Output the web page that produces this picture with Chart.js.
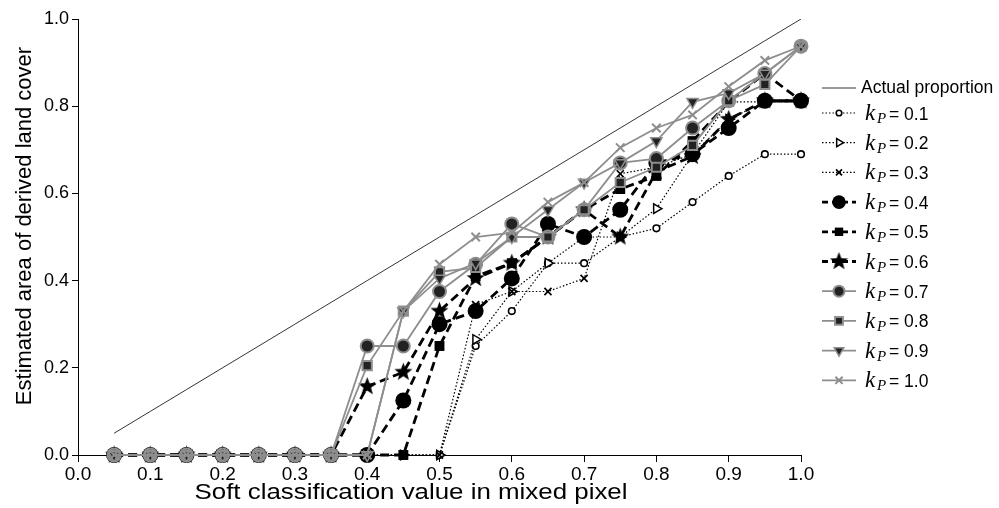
<!DOCTYPE html>
<html>
<head>
<meta charset="utf-8">
<script src="https://cdn.jsdelivr.net/npm/chart.js@4/dist/chart.umd.min.js"></script>
<style>
  html, body { margin: 0; padding: 0; background: #fff; }
  #wrap { width: 999px; height: 508px; position: relative; }
</style>
</head>
<body>
<div id="wrap"><canvas id="chart"></canvas></div>
<script>
// Valeurs de l'axe x (classification douce)
const xVals = [0.05, 0.10, 0.15, 0.20, 0.25, 0.30, 0.35, 0.40, 0.45, 0.50,
               0.55, 0.60, 0.65, 0.70, 0.75, 0.80, 0.85, 0.90, 0.95, 1.00];

// Proportion réelle (diagonale)
const actualVals = [0.05, 0.10, 0.15, 0.20, 0.25, 0.30, 0.35, 0.40, 0.45, 0.50,
                    0.55, 0.60, 0.65, 0.70, 0.75, 0.80, 0.85, 0.90, 0.95, 1.00];

// Séries kP
const k01 = [0, 0, 0, 0, 0, 0, 0, 0, 0, 0, 0.25, 0.33, 0.44, 0.44, 0.50, 0.52, 0.58, 0.64, 0.69, 0.69];
const k02 = [0, 0, 0, 0, 0, 0, 0, 0, 0, 0, 0.265, 0.375, 0.44, 0.50, 0.50, 0.565, 0.69, 0.77, 0.81, 0.81];
const k03 = [0, 0, 0, 0, 0, 0, 0, 0, 0, 0, 0.345, 0.375, 0.375, 0.405, 0.645, 0.66, 0.69, 0.81, 0.81, 0.81];
const k04 = [0, 0, 0, 0, 0, 0, 0, 0, 0.125, 0.30, 0.33, 0.405, 0.53, 0.50, 0.5625, 0.67, 0.69, 0.75, 0.8125, 0.8125];
const k05 = [0, 0, 0, 0, 0, 0, 0, 0, 0, 0.25, 0.41, 0.44, 0.50, 0.5625, 0.61, 0.64, 0.72, 0.81, 0.875, 0.8125];
const k06 = [0, 0, 0, 0, 0, 0, 0, 0.157, 0.19, 0.33, 0.405, 0.44, 0.50, 0.5625, 0.50, 0.65, 0.685, 0.77, 0.8125, 0.8125];
const k07 = [0, 0, 0, 0, 0, 0, 0, 0.25, 0.25, 0.375, 0.4375, 0.53, 0.50, 0.5625, 0.67, 0.68, 0.75, 0.8125, 0.875, 0.9375];
const k08 = [0, 0, 0, 0, 0, 0, 0, 0.205, 0.33, 0.42, 0.43, 0.50, 0.50, 0.5625, 0.625, 0.66, 0.71, 0.8125, 0.85, 0.9375];
const k09 = [0, 0, 0, 0, 0, 0, 0, 0, 0.33, 0.405, 0.44, 0.50, 0.5625, 0.625, 0.67, 0.72, 0.81, 0.83, 0.875, 0.9375];
const k10 = [0, 0, 0, 0, 0, 0, 0, 0, 0.33, 0.4375, 0.50, 0.51, 0.58, 0.625, 0.705, 0.75, 0.78, 0.845, 0.905, 0.9375];

const kLabels = ['0.1', '0.2', '0.3', '0.4', '0.5', '0.6', '0.7', '0.8', '0.9', '1.0'];
const kSeries = [k01, k02, k03, k04, k05, k06, k07, k08, k09, k10];

const xTickLabels = ['0.0', '0.1', '0.2', '0.3', '0.4', '0.5', '0.6', '0.7', '0.8', '0.9', '1.0'];
const yTickLabels = ['0.0', '0.2', '0.4', '0.6', '0.8', '1.0'];

const xTitle = 'Soft classification value in mixed pixel';
const yTitle = 'Estimated area of derived land cover';

// Étoile pleine (pas disponible dans Chart.js)
function makeStar(r) {
    const c = document.createElement('canvas');
    const s = Math.ceil(r * 2 + 2);
    c.width = c.height = s;
    const g = c.getContext('2d');
    g.beginPath();
    for (let k = 0; k < 10; k++) {
        const rr = k % 2 ? r * 0.42 : r;
        const a = -Math.PI / 2 + k * Math.PI / 5;
        g.lineTo(s / 2 + rr * Math.cos(a), s / 2 + rr * Math.sin(a));
    }
    g.closePath();
    g.fillStyle = '#000';
    g.fill();
    return c;
}
const starImg = makeStar(9.5);

const GRAY = '#8e8e8e';
const DOT = [1.5, 2];
const DASH = [9, 5];
const SANS = '"Liberation Sans", Arial, sans-serif';
const SERIF = '"Liberation Serif", "Times New Roman", serif';

// Styles de chaque série kP
const styles = [
    { line: '#000', width: 1.2, dash: DOT,  point: 'circle',   r: 3.3, fill: '#fff', border: '#000', bw: 1.6, rot: 0 },
    { line: '#000', width: 1.2, dash: DOT,  point: 'triangle', r: 5.5, fill: '#fff', border: '#000', bw: 1.5, rot: 90 },
    { line: '#000', width: 1.2, dash: DOT,  point: 'crossRot', r: 5,   fill: '#000', border: '#000', bw: 1.7, rot: 0 },
    { line: '#000', width: 2.8, dash: DASH, point: 'circle',   r: 8,   fill: '#000', border: '#000', bw: 0,   rot: 0 },
    { line: '#000', width: 2.8, dash: DASH, point: 'rect',     r: 7,   fill: '#000', border: '#000', bw: 0,   rot: 0 },
    { line: '#000', width: 2.8, dash: DASH, point: starImg,    r: 9,   fill: '#000', border: '#000', bw: 0,   rot: 0 },
    { line: GRAY,   width: 1.8, dash: [],   point: 'circle',   r: 6.5, fill: '#222', border: GRAY,   bw: 2,   rot: 0 },
    { line: GRAY,   width: 1.8, dash: [],   point: 'rect',     r: 6.5, fill: '#222', border: GRAY,   bw: 2,   rot: 0 },
    { line: GRAY,   width: 1.8, dash: [],   point: 'triangle', r: 6.5, fill: '#222', border: GRAY,   bw: 1.5, rot: 180 },
    { line: GRAY,   width: 1.8, dash: [],   point: 'crossRot', r: 6,   fill: GRAY,   border: GRAY,   bw: 2,   rot: 0 }
];

const datasets = [{
    label: 'Actual proportion',
    data: xVals.map((x, i) => ({ x: x, y: actualVals[i] })),
    borderColor: '#000',
    borderWidth: 0.8,
    pointRadius: 0,
    order: 20
}];

kSeries.forEach((vals, i) => {
    const s = styles[i];
    datasets.push({
        label: 'kP = ' + kLabels[i],
        data: xVals.map((x, j) => ({ x: x, y: vals[j] })),
        borderColor: s.line,
        borderWidth: s.width,
        borderDash: s.dash,
        pointStyle: s.point,
        pointRadius: s.r,
        pointRotation: s.rot,
        pointBackgroundColor: s.fill,
        pointBorderColor: s.border,
        pointBorderWidth: s.bw,
        tension: 0,
        clip: false,
        order: 12 - i
    });
});

// Titres des axes (le titre x est un peu étiré et décalé à gauche dans l'original)
const titlePlugin = {
    id: 'axisTitles',
    afterDraw(chart) {
        const ctx = chart.ctx;
        ctx.save();
        ctx.fillStyle = '#000';
        ctx.font = '22px ' + SANS;
        ctx.textAlign = 'center';
        ctx.textBaseline = 'alphabetic';

        // titre x : largeur ~433 px, centré vers x=411
        const w = ctx.measureText(xTitle).width;
        ctx.save();
        ctx.translate(411, 499);
        ctx.scale(433 / w, 1);
        ctx.fillText(xTitle, 0, 0);
        ctx.restore();

        // titre y : vertical
        ctx.save();
        ctx.translate(31, 226);
        ctx.rotate(-Math.PI / 2);
        ctx.fillText(yTitle, 0, 0);
        ctx.restore();
        ctx.restore();
    }
};

// Légende dessinée à la main (indice P en italique)
const legendPlugin = {
    id: 'customLegend',
    afterDraw(chart) {
        const ctx = chart.ctx;
        const x0 = 822, x1 = 856, xm = 839;
        ctx.save();

        // Proportion réelle
        let y = 88;
        ctx.strokeStyle = '#000';
        ctx.lineWidth = 0.8;
        ctx.beginPath(); ctx.moveTo(x0, y); ctx.lineTo(x1, y); ctx.stroke();
        ctx.fillStyle = '#000';
        ctx.font = '17.5px ' + SANS;
        ctx.textBaseline = 'middle';
        ctx.fillText('Actual proportion', 861, y);

        kLabels.forEach((lab, i) => {
            const s = styles[i];
            y = 113 + i * 29.7;
            ctx.save();
            ctx.strokeStyle = s.line;
            ctx.lineWidth = s.width;
            ctx.setLineDash(s.dash.length ? (s.width > 2 ? [6, 4] : s.dash) : []);
            ctx.beginPath(); ctx.moveTo(x0, y); ctx.lineTo(x1, y); ctx.stroke();
            ctx.restore();

            ctx.save();
            ctx.fillStyle = s.fill;
            ctx.strokeStyle = s.border;
            ctx.lineWidth = s.bw;
            Chart.helpers.drawPoint(ctx, {
                pointStyle: s.point,
                radius: s.r * 0.85,
                rotation: s.rot,
                borderWidth: s.bw
            }, xm, y);
            ctx.restore();

            ctx.fillStyle = '#000';
            ctx.textBaseline = 'alphabetic';
            ctx.font = 'italic 23px ' + SERIF;
            ctx.fillText('k', 865, y + 7);
            ctx.font = 'italic 15px ' + SERIF;
            ctx.fillText('P', 877, y + 10);
            ctx.font = '17.5px ' + SANS;
            ctx.fillText('= ' + lab, 889, y + 6.5);
        });
        ctx.restore();
    }
};

new Chart(document.getElementById('chart').getContext('2d'), {
    type: 'line',
    data: { datasets: datasets },
    options: {
        responsive: true,
        maintainAspectRatio: false,
        animation: false,
        layout: { padding: { left: 0, right: 198, top: 19, bottom: 0 } },
        plugins: { legend: { display: false }, tooltip: { enabled: false } },
        scales: {
            x: {
                type: 'linear',
                min: 0, max: 1,
                afterFit: s => { s.height = 53; },
                border: { color: '#000', width: 1 },
                grid: { drawOnChartArea: false, drawTicks: true, tickLength: 7, color: '#000' },
                ticks: {
                    stepSize: 0.1, color: '#000', font: { family: SANS, size: 19 }, padding: 1,
                    maxRotation: 0, autoSkip: false,
                    callback: (v, i) => xTickLabels[i]
                }
            },
            y: {
                type: 'linear',
                min: 0, max: 1,
                afterFit: s => { s.width = 78; },
                border: { color: '#000', width: 1 },
                grid: { drawOnChartArea: false, drawTicks: true, tickLength: 6, color: '#000' },
                ticks: {
                    stepSize: 0.2, color: '#000', font: { family: SANS, size: 18 }, padding: 3,
                    callback: (v, i) => yTickLabels[i]
                }
            }
        }
    },
    plugins: [titlePlugin, legendPlugin]
});
</script>
</body>
</html>
